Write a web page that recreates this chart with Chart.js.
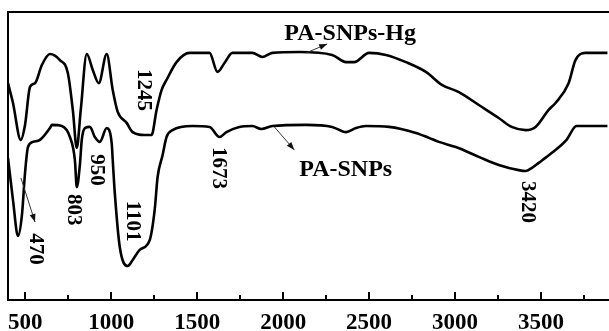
<!DOCTYPE html>
<html lang="en">
<head>
<meta charset="UTF-8">
<title>FTIR spectra</title>
<style>
    body { margin: 0; background: #fff; }
    #chart { display: block; }
</style>
</head>
<body>
<canvas id="chart" width="609" height="331"></canvas>
<script src="https://cdn.jsdelivr.net/npm/chart.js"></script>
<script>
// PA-SNPs-Hg spectrum (wavenumber, relative transmittance)
const hgWn = [400, 429, 474, 499, 528, 557, 597, 644, 702, 748, 777, 800, 823, 858, 893, 928, 974,
    1009, 1038, 1090, 1125, 1194, 1235, 1264, 1293, 1322, 1380, 1456, 1572, 1618, 1659, 1705, 1821,
    1879, 1937, 2094, 2285, 2366, 2413, 2500, 2598, 2714, 2830, 2923, 3022, 3138, 3254, 3329, 3410,
    3468, 3544, 3584, 3660, 3700, 3758, 3886];
const hgT = [75.3, 68.4, 55.6, 60.8, 74.0, 75.3, 81.6, 85.4, 83.3, 78.8, 65.9, 52.8, 65.9, 85.4, 79.9, 75.3, 85.4,
    72.9, 65.3, 61.5, 58.3, 57.3, 57.3, 66.0, 72.9, 76.4, 82.6, 85.8, 85.8, 79.2, 82.3, 85.8, 85.8,
    84.4, 85.8, 86.1, 85.1, 82.6, 82.6, 85.8, 85.1, 82.6, 79.2, 74.7, 72.2, 67.7, 63.2, 60.1, 59.0,
    60.1, 66.0, 68.4, 75.3, 83.3, 85.8, 85.8];

// PA-SNPs spectrum
const snpWn = [400, 429, 458, 481, 499, 516, 545, 586, 644, 655, 713, 760, 789, 800, 818, 829, 847, 876,
    905, 934, 974, 1003, 1009, 1021, 1050, 1096, 1125, 1166, 1224, 1253, 1270, 1299, 1322, 1357,
    1473, 1572, 1630, 1670, 1746, 1821, 1873, 1937, 2134, 2285, 2366, 2424, 2482, 2616, 2772, 2848,
    2906, 3004, 3138, 3254, 3370, 3410, 3445, 3486, 3561, 3648, 3706, 3886];
const snpT = [49.3, 34.7, 22.2, 29.5, 44.1, 53.1, 54.9, 55.6, 59.7, 60.8, 60.4, 56.6, 48.6, 39.2, 46.9, 55.6, 59.7, 60.1,
    56.6, 54.9, 59.7, 54.5, 48.6, 37.2, 18.4, 11.8, 13.9, 17.4, 20.8, 31.3, 42.7, 50.3, 56.6, 59.0,
    60.4, 60.1, 56.6, 58.3, 60.1, 60.4, 59.4, 60.4, 60.8, 60.1, 58.3, 59.7, 60.4, 60.1, 58.0, 56.3,
    54.9, 53.1, 49.7, 46.9, 45.1, 44.8, 45.8, 47.6, 51.0, 55.6, 60.4, 60.4];

const majorTicks = [500, 1000, 1500, 2000, 2500, 3000, 3500];
const minorTicks = [750, 1250, 1750, 2250, 2750, 3250, 3750];

// peak labels: text, wavenumber, y (drawn rotated)
const peakText = ['470', '803', '950', '1101', '1245', '1673', '3420'];
const peakX = [562, 783, 916, 1125, 1189, 1624, 3422];
const peakY = [17.7, 31.3, 45.1, 27.4, 72.9, 45.8, 34.0];

// series names with pointer arrows
const names = [
    { text: 'PA-SNPs-Hg', x: 2007, y: 92.4, from: [2134, 85.8], to: [2256, 88.9] },
    { text: 'PA-SNPs', x: 2094, y: 45.1, from: [1949, 60.1], to: [2065, 52.1] }
];
const extraArrows = [{ from: [475, 42.4], to: [557, 27.1] }];

const FONT = '"Liberation Serif", "Times New Roman", serif';

function toPoints(xs, ys) {
    return xs.map((x, i) => ({ x: x, y: ys[i] }));
}

function arrow(ctx, x1, y1, x2, y2) {
    ctx.save();
    ctx.strokeStyle = '#333';
    ctx.fillStyle = '#111';
    ctx.lineWidth = 1;
    ctx.beginPath();
    ctx.moveTo(x1, y1);
    ctx.lineTo(x2, y2);
    ctx.stroke();
    const a = Math.atan2(y2 - y1, x2 - x1);
    const len = 8, w = 3;
    ctx.beginPath();
    ctx.moveTo(x2, y2);
    ctx.lineTo(x2 - len * Math.cos(a) + w * Math.sin(a), y2 - len * Math.sin(a) - w * Math.cos(a));
    ctx.lineTo(x2 - len * Math.cos(a) - w * Math.sin(a), y2 - len * Math.sin(a) + w * Math.cos(a));
    ctx.closePath();
    ctx.fill();
    ctx.restore();
}

const decorPlugin = {
    id: 'decor',
    afterDraw(chart) {
        const ctx = chart.ctx;
        const xs = chart.scales.x, ys = chart.scales.y;
        const area = chart.chartArea;

        // frame (top, left, bottom)
        ctx.save();
        ctx.strokeStyle = '#000';
        ctx.lineWidth = 2;
        ctx.beginPath();
        ctx.moveTo(chart.width, area.top);
        ctx.lineTo(area.left, area.top);
        ctx.lineTo(area.left, area.bottom);
        ctx.lineTo(chart.width, area.bottom);
        ctx.stroke();

        // inward tick marks
        majorTicks.forEach(v => {
            const px = Math.round(xs.getPixelForValue(v));
            ctx.beginPath();
            ctx.moveTo(px, area.bottom);
            ctx.lineTo(px, area.bottom - 8);
            ctx.stroke();
        });
        minorTicks.forEach(v => {
            const px = Math.round(xs.getPixelForValue(v));
            ctx.beginPath();
            ctx.moveTo(px, area.bottom);
            ctx.lineTo(px, area.bottom - 5);
            ctx.stroke();
        });
        ctx.restore();

        // peak labels, rotated
        ctx.save();
        ctx.fillStyle = '#000';
        ctx.font = 'bold 21px ' + FONT;
        ctx.textAlign = 'center';
        ctx.textBaseline = 'middle';
        peakText.forEach((t, i) => {
            ctx.save();
            ctx.translate(xs.getPixelForValue(peakX[i]), ys.getPixelForValue(peakY[i]));
            ctx.rotate(Math.PI / 2);
            ctx.fillText(t, 0, 0);
            ctx.restore();
        });
        ctx.restore();

        // series names and arrows
        ctx.save();
        ctx.fillStyle = '#000';
        ctx.font = 'bold 24px ' + FONT;
        ctx.textAlign = 'left';
        ctx.textBaseline = 'middle';
        names.forEach(n => {
            ctx.fillText(n.text, xs.getPixelForValue(n.x), ys.getPixelForValue(n.y));
            arrow(ctx, xs.getPixelForValue(n.from[0]), ys.getPixelForValue(n.from[1]),
                xs.getPixelForValue(n.to[0]), ys.getPixelForValue(n.to[1]));
        });
        extraArrows.forEach(a => {
            arrow(ctx, xs.getPixelForValue(a.from[0]), ys.getPixelForValue(a.from[1]),
                xs.getPixelForValue(a.to[0]), ys.getPixelForValue(a.to[1]));
        });
        ctx.restore();
    }
};

const lineStyle = {
    showLine: true,
    borderColor: '#000',
    borderWidth: 2.6,
    pointRadius: 0,
    fill: false,
    cubicInterpolationMode: 'monotone'
};

new Chart(document.getElementById('chart').getContext('2d'), {
    type: 'scatter',
    data: {
        datasets: [
            Object.assign({ label: 'PA-SNPs-Hg', data: toPoints(hgWn, hgT) }, lineStyle),
            Object.assign({ label: 'PA-SNPs', data: toPoints(snpWn, snpT) }, lineStyle)
        ]
    },
    options: {
        responsive: false,
        animation: false,
        devicePixelRatio: 1,
        layout: { padding: { left: 8, top: 12, right: 0, bottom: 0 } },
        plugins: {
            legend: { display: false },
            tooltip: { enabled: false }
        },
        scales: {
            x: {
                type: 'linear',
                min: 400,
                max: 3895,
                grid: { display: false },
                border: { display: false },
                afterBuildTicks: s => { s.ticks = majorTicks.map(v => ({ value: v })); },
                afterFit: s => { s.height = 31; },
                ticks: {
                    color: '#000',
                    padding: 1,
                    maxRotation: 0,
                    autoSkip: false,
                    callback: v => String(v),
                    font: { family: FONT, size: 23, weight: 'bold' }
                }
            },
            y: {
                display: false,
                min: 0,
                max: 100
            }
        }
    },
    plugins: [decorPlugin]
});
</script>
</body>
</html>
